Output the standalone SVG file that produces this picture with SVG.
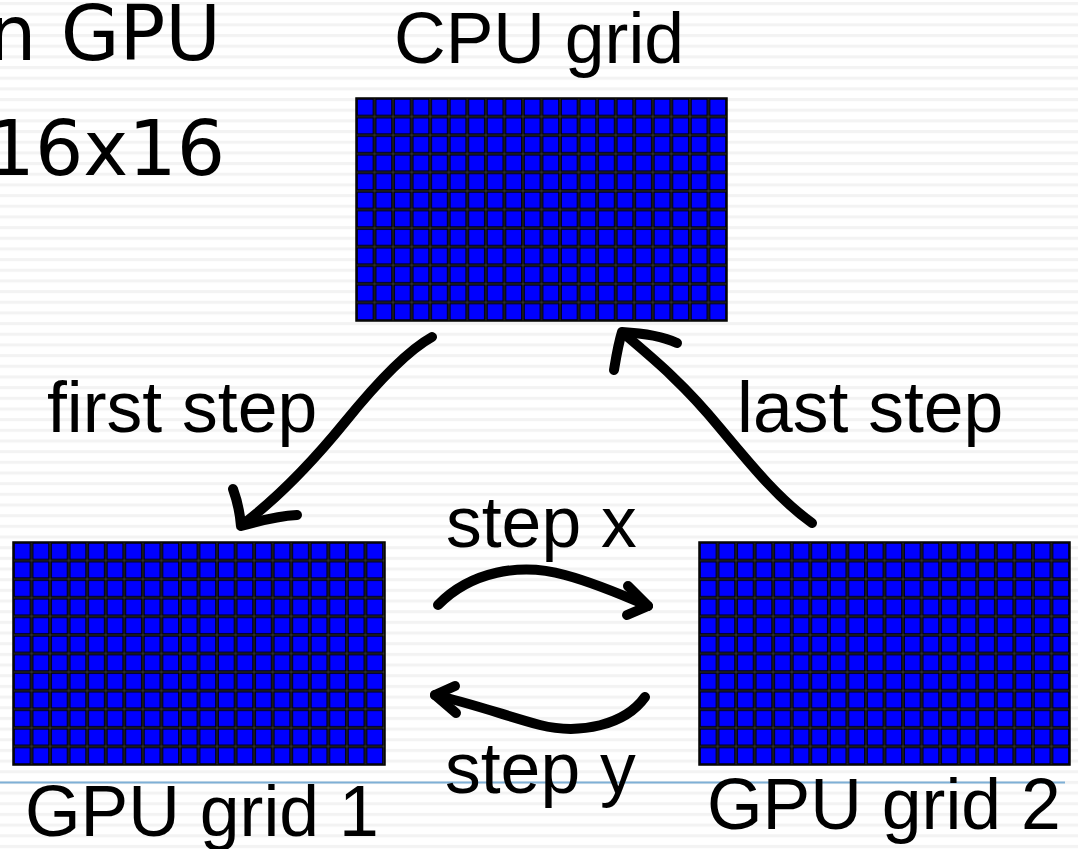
<svg xmlns="http://www.w3.org/2000/svg" width="1078" height="849" viewBox="0 0 1078 849">
  <defs>
    <pattern id="stripes" patternUnits="userSpaceOnUse" x="0" y="2" width="20" height="10.67">
      <rect width="20" height="10.67" fill="#ffffff"/>
      <rect y="0" width="20" height="3" fill="#f3f3f3"/>
    </pattern>
    <pattern id="cells" patternUnits="userSpaceOnUse" x="0" y="0" width="18.55" height="18.583">
      <rect width="18.55" height="18.583" fill="#0000ff"/>
      <path d="M0,0 H18.55 M0,18.583 H18.55 M0,0 V18.583 M18.55,0 V18.583" stroke="#000" stroke-width="3.6" fill="none"/>
      <path d="M0,0 H18.55 M0,18.583 H18.55 M0,0 V18.583 M18.55,0 V18.583" stroke="#6a6a6a" stroke-width="0.5" fill="none"/>
    </pattern>
    <style>
      .lbl { font-family: "Liberation Sans", Arial, sans-serif; font-size: 71.5px; fill: #000; }
      .big { font-family: "DejaVu Sans", Verdana, sans-serif; font-size: 76px; fill: #000; }
      .grid { fill: url(#cells); stroke: #000; stroke-width: 1.5; }
      .arr { fill: none; stroke: #000; stroke-width: 10; stroke-linecap: round; stroke-linejoin: round; }
    </style>
  </defs>

  <rect width="1078" height="849" fill="url(#stripes)"/>
  <line x1="0" y1="782.5" x2="1065" y2="782.5" stroke="#7fb0d6" stroke-width="2"/>

  <g id="title">
    <text class="big" x="221" y="60" text-anchor="end">n GPU</text>
    <text class="big" x="225" y="175" text-anchor="end">16x16</text>
  </g>

  <g id="cpu-grid">
    <g transform="translate(356,98)">
      <rect class="grid" x="0" y="0" width="371" height="223"/>
    </g>
    <text class="lbl" x="394" y="63">CPU grid</text>
  </g>

  <g id="gpu-grid-1">
    <g transform="translate(13,542)">
      <rect class="grid" x="0" y="0" width="372" height="223"/>
    </g>
    <text class="lbl" x="25" y="836">GPU grid 1</text>
  </g>

  <g id="gpu-grid-2">
    <g transform="translate(699,542)">
      <rect class="grid" x="0" y="0" width="371" height="223"/>
    </g>
    <text class="lbl" x="707" y="829">GPU grid 2</text>
  </g>

  <g id="labels">
    <text class="lbl" x="47" y="432">first step</text>
    <text class="lbl" x="737" y="432">last step</text>
    <text class="lbl" x="446" y="547">step x</text>
    <text class="lbl" x="445" y="793">step y</text>
  </g>

  <g id="connectors">
    <path class="arr" d="M432,337 C405,352 375,385 345,422 C310,465 275,500 242,525"/>
    <path class="arr" d="M233,489 C237,500 240,513 241,526 C262,520 280,516 297,515"/>

    <path class="arr" d="M812,523 C780,500 755,470 720,428 C685,385 655,360 623,333"/>
    <path class="arr" d="M677,343 C660,335 640,333 622,332 C618,345 616,358 614,370"/>

    <path class="arr" d="M438,605 C470,572 520,562 565,575 C595,583 625,596 648,606"/>
    <path class="arr" d="M628,586 L648,606 L627,615"/>

    <path class="arr" d="M645,697 C625,725 580,735 540,725 C510,717 470,703 435,695"/>
    <path class="arr" d="M455,686 L435,695 L456,713"/>
  </g>
</svg>
